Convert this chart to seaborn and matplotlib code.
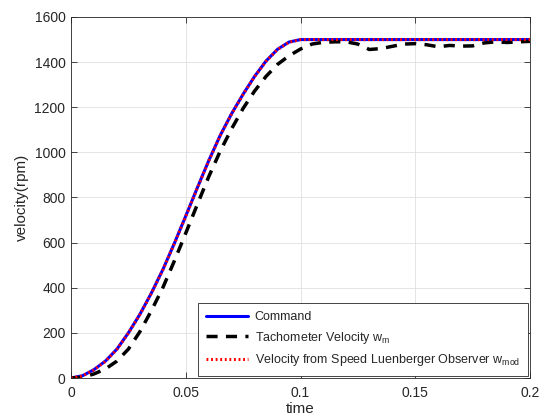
import matplotlib
matplotlib.use("Agg")
import matplotlib.pyplot as plt
import seaborn as sns
import numpy as np
import pandas as pd

# ---- data ----
time = [0.000, 0.005, 0.010, 0.015, 0.020, 0.025, 0.030, 0.035, 0.040, 0.045,
        0.050, 0.055, 0.060, 0.065, 0.070, 0.075, 0.080, 0.085, 0.090, 0.095,
        0.100, 0.105, 0.110, 0.115, 0.120, 0.125, 0.130, 0.135, 0.140, 0.145,
        0.150, 0.155, 0.160, 0.165, 0.170, 0.175, 0.180, 0.185, 0.190, 0.195,
        0.200]
command = [0, 10, 37, 75, 128, 200, 282, 376, 480, 596,
           718, 842, 963, 1075, 1172, 1258, 1337, 1405, 1457, 1489,
           1500, 1500, 1500, 1500, 1500, 1500, 1500, 1500, 1500, 1500,
           1500, 1500, 1500, 1500, 1500, 1500, 1500, 1500, 1500, 1500,
           1500]
tachometer = [0, 3, 18, 40, 75, 128, 205, 298, 400, 518,
              642, 768, 892, 1005, 1105, 1195, 1272, 1337, 1390, 1428,
              1458, 1480, 1488, 1490, 1490, 1480, 1456, 1460, 1470, 1480,
              1482, 1477, 1468, 1474, 1471, 1472, 1485, 1490, 1487, 1490,
              1492]
observer = [0, 9, 36, 74, 127, 199, 281, 375, 479, 595,
            717, 841, 962, 1074, 1171, 1257, 1336, 1404, 1456, 1488,
            1500, 1500, 1500, 1500, 1500, 1500, 1500, 1500, 1500, 1500,
            1500, 1500, 1500, 1500, 1500, 1500, 1500, 1500, 1500, 1500,
            1500]

xticks = [0, 0.05, 0.1, 0.15, 0.2]
xticklabels = ["0", "0.05", "0.1", "0.15", "0.2"]
yticks = [0, 200, 400, 600, 800, 1000, 1200, 1400, 1600]
labels = ["Command",
          r"Tachometer Velocity w$_{\mathrm{m}}$",
          r"Velocity from Speed Luenberger Observer w$_{\mathrm{mod}}$"]

sns.set_theme(style="white")
plt.rcParams['font.family'] = ['Liberation Sans', 'DejaVu Sans']
plt.rcParams['mathtext.fontset'] = 'custom'
plt.rcParams['mathtext.rm'] = 'Liberation Sans'
plt.rcParams['mathtext.it'] = 'Liberation Sans:italic'

df = pd.DataFrame({"time": time, "command": command,
                   "tach": tachometer, "obs": observer})

fig = plt.figure(figsize=(5.44, 4.19), dpi=100)
ax = fig.add_axes([71/544, 1 - 378/419, (530-71)/544, (378-17)/419])

sns.lineplot(data=df, x="time", y="command", ax=ax, color=(0, 0, 1),
             lw=2.2, label=labels[0])
sns.lineplot(data=df, x="time", y="tach", ax=ax, color="black",
             lw=2.5, label=labels[1])
ax.lines[-1].set_dashes([3.2, 2.4])
sns.lineplot(data=df, x="time", y="obs", ax=ax, color=(1, 0, 0),
             lw=2.2, label=labels[2])
ax.lines[-1].set_linestyle((0, (0.6, 0.9)))

ax.set_xlim(0, 0.2)
ax.set_ylim(0, 1600)
ax.set_xticks(xticks)
ax.set_xticklabels(xticklabels)
ax.set_yticks(yticks)
ax.set_xlabel("time", fontsize=11, color="0.15", labelpad=1)
ax.set_ylabel("velocity(rpm)", fontsize=11, color="0.15", labelpad=4)

ax.grid(True, color="0.88", lw=0.6)
for s in ax.spines.values():
    s.set_color("0.15")
    s.set_linewidth(0.6)
ax.tick_params(direction="in", length=4, width=0.6, colors="0.15",
               labelsize=10, top=True, right=True, bottom=True, left=True,
               labelcolor="0.15", pad=4)
ax.tick_params(axis="x", pad=6)

leg = ax.legend(loc="lower right", fontsize=9, frameon=True, fancybox=False,
                edgecolor="0.15", framealpha=1, handlelength=3.4,
                borderaxespad=0.15, labelspacing=0.5, handletextpad=0.5,
                borderpad=0.65)
leg.get_frame().set_linewidth(0.6)

fig.savefig("out.png", dpi=100)
